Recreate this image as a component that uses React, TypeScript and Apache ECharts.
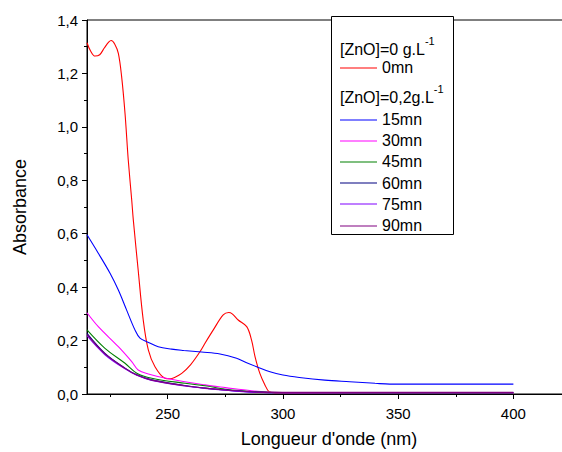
import { useEffect, useRef } from 'react';
import * as echarts from 'echarts';

// ---- data ----
const seriesNames = ['0mn', '15mn', '30mn', '45mn', '60mn', '75mn', '90mn'];
const seriesColors = ['#ff0000', '#0000ff', '#ff00ff', '#008000', '#000080', '#8000ff', '#800080'];
const legendHeaders = ['[ZnO]=0 g.L', '[ZnO]=0,2g.L'];
const legendSup = '-1';

const xTickLabels = [250, 300, 350, 400];
const xMinorTicks = [225, 275, 325, 375, 425];
const yTickLabels = [0, 0.2, 0.4, 0.6, 0.8, 1.0, 1.2, 1.4];

const wl0 = [215, 216.5, 218.5, 220.5, 222.5, 224.5, 225.5, 227, 228.6, 230, 231.5, 232.9, 234.4, 235.1, 237.2, 239.4, 241.6, 244.5, 248.8, 251, 253, 256.1, 260, 264, 266.2, 269.8, 274.1, 276.5, 278, 280.6, 284.3, 286.4, 287.9, 290, 292.2, 294, 297, 310, 350, 400];
const abs0 = [1.315, 1.285, 1.265, 1.27, 1.295, 1.318, 1.323, 1.31, 1.275, 1.19, 1.05, 0.876, 0.726, 0.651, 0.464, 0.277, 0.165, 0.102, 0.059, 0.057, 0.062, 0.077, 0.11, 0.158, 0.19, 0.24, 0.296, 0.305, 0.3, 0.277, 0.252, 0.202, 0.14, 0.077, 0.034, 0.009, 0.004, 0.003, 0.003, 0.003];

const wl15 = [215, 219.9, 225, 228.6, 232.2, 235.8, 238, 240.9, 245.9, 251.7, 257, 264.7, 272.7, 279.9, 284, 288.6, 294.4, 300, 307.1, 318.2, 329, 340, 346.4, 400];
const abs15 = [0.596, 0.527, 0.452, 0.389, 0.314, 0.24, 0.209, 0.196, 0.177, 0.168, 0.163, 0.157, 0.15, 0.134, 0.118, 0.102, 0.083, 0.071, 0.062, 0.052, 0.046, 0.04, 0.037, 0.037];

const wl30 = [215, 219.9, 228.6, 234.4, 237.2, 241.6, 250.3, 266.2, 275, 286.4, 296.5, 310, 400];
const abs30 = [0.304, 0.252, 0.177, 0.121, 0.09, 0.075, 0.057, 0.034, 0.024, 0.012, 0.006, 0.004, 0.004];

const wlLow = [215, 222.8, 231.5, 236.6, 243.1, 257.5, 266.2, 275, 289, 300, 400];
const abs45 = [0.24, 0.171, 0.115, 0.078, 0.059, 0.04, 0.031, 0.018, 0.008, 0.005, 0.004];
const abs60 = [0.227, 0.152, 0.097, 0.072, 0.053, 0.032, 0.022, 0.015, 0.007, 0.005, 0.005];
const abs75 = [0.218, 0.147, 0.094, 0.07, 0.051, 0.03, 0.021, 0.014, 0.006, 0.005, 0.005];
const abs90 = [0.222, 0.15, 0.096, 0.071, 0.052, 0.031, 0.022, 0.015, 0.007, 0.006, 0.006];

const seriesX = [wl0, wl15, wl30, wlLow, wlLow, wlLow, wlLow];
const seriesY = [abs0, abs15, abs30, abs45, abs60, abs75, abs90];

const FONT = 'Arial, "Liberation Sans", sans-serif';

function buildLegend() {
  const els: any[] = [];
  const bx = 331.5, by = 16.5, bw = 122, bh = 218;
  els.push({ type: 'rect', shape: { x: bx, y: by, width: bw, height: bh }, style: { fill: '#fff', stroke: '#000', lineWidth: 1 }, z: 100 });
  const header = (txt: string, y: number) => ({
    type: 'text', x: 340, y, z: 101,
    style: {
      text: `{b|${txt}}{s|${legendSup}}`, verticalAlign: 'middle', align: 'left',
      rich: {
        b: { fontSize: 16, fontFamily: FONT, fill: '#000', lineHeight: 22, verticalAlign: 'bottom' },
        s: { fontSize: 11, fontFamily: FONT, fill: '#000', lineHeight: 22, verticalAlign: 'top' },
      },
    },
  });
  const item = (i: number, y: number) => {
    const ly = Math.round(y);
    els.push({ type: 'line', shape: { x1: 340, y1: ly, x2: 377, y2: ly }, style: { stroke: seriesColors[i], lineWidth: 1.2 }, z: 101 });
    els.push({ type: 'text', x: 382, y, z: 101, style: { text: seriesNames[i], fontSize: 16, fontFamily: FONT, fill: '#000', verticalAlign: 'middle', align: 'left' } });
  };
  els.push(header(legendHeaders[0], 46));
  item(0, 67.5);
  els.push(header(legendHeaders[1], 94));
  for (let i = 1; i < seriesNames.length; i++) item(i, 119.5 + (i - 1) * 21.2);
  return els;
}

export default function App() {
  const ref = useRef<HTMLDivElement>(null);
  useEffect(() => {
    const chart = echarts.init(ref.current!, null, { renderer: 'svg' });
    const axisLineStyle = { color: '#000', width: 1 };
    chart.setOption({
      animation: false,
      backgroundColor: '#fff',
      grid: {
        left: 87, top: 20, width: 484, height: 374, show: true, borderColor: '#000', borderWidth: 1,
        backgroundColor: 'transparent', containLabel: false, outerBoundsMode: 'none',
      },
      xAxis: [
        {
          type: 'value', min: 215, max: 425, position: 'bottom',
          axisLine: { show: true, lineStyle: axisLineStyle },
          axisTick: { show: true, length: 5, customValues: xTickLabels, lineStyle: axisLineStyle },
          axisLabel: { customValues: xTickLabels, fontSize: 15, fontFamily: FONT, color: '#000', margin: 12 },
          splitLine: { show: false },
          name: "Longueur d'onde (nm)", nameLocation: 'middle', nameGap: 36,
          nameTextStyle: { fontSize: 18, fontFamily: FONT, color: '#000' },
        },
        {
          type: 'value', min: 215, max: 425, position: 'bottom',
          axisLine: { show: false },
          axisTick: { show: true, length: 3, customValues: xMinorTicks, lineStyle: axisLineStyle },
          axisLabel: { show: false },
          splitLine: { show: false },
        },
      ],
      yAxis: {
        type: 'value', min: 0, max: 1.4, interval: 0.2,
        axisLine: { show: true, lineStyle: axisLineStyle },
        axisTick: { show: true, length: 5, lineStyle: axisLineStyle },
        minorTick: { show: true, splitNumber: 2, length: 3, lineStyle: axisLineStyle },
        axisLabel: {
          fontSize: 15, fontFamily: FONT, color: '#000', margin: 9,
          formatter: (v: number) => (yTickLabels.some((t) => Math.abs(t - v) < 1e-6) ? v.toFixed(1).replace('.', ',') : ''),
        },
        splitLine: { show: false },
        name: 'Absorbance', nameLocation: 'middle', nameGap: 58,
        nameTextStyle: { fontSize: 18, fontFamily: FONT, color: '#000' },
      },
      series: seriesNames.map((name, i) => ({
        name, type: 'line', xAxisIndex: 0,
        data: seriesX[i].map((x, j) => [x, seriesY[i][j]]),
        showSymbol: false, symbol: 'none', smooth: 0.35,
        lineStyle: { color: seriesColors[i], width: 1.1 },
        itemStyle: { color: seriesColors[i] },
      })),
      graphic: buildLegend(),
    });
    return () => chart.dispose();
  }, []);
  return (
    <div style={{ position: 'fixed', left: 0, top: 0, width: 562, height: 452, overflow: 'hidden', background: '#fff' }}>
      <div ref={ref} style={{ width: 580, height: 452 }} />
    </div>
  );
}
